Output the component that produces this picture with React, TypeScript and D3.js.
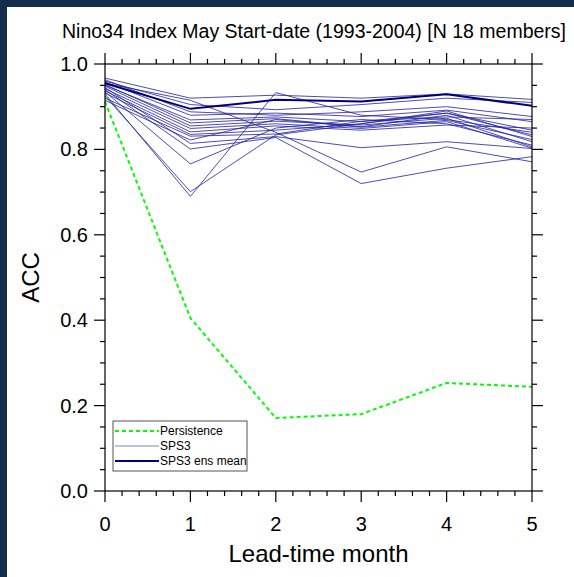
import React from "react";
import * as d3 from "d3";

const leads = [0, 1, 2, 3, 4, 5];
const persistence = [0.912, 0.405, 0.171, 0.18, 0.253, 0.244];
const ensMean = [0.955, 0.895, 0.916, 0.912, 0.929, 0.902];
const members: number[][] = [
  [0.930, 0.690, 0.933, 0.880, 0.870, 0.840],
  [0.925, 0.701, 0.834, 0.860, 0.890, 0.830],
  [0.935, 0.766, 0.850, 0.870, 0.860, 0.810],
  [0.955, 0.915, 0.840, 0.747, 0.806, 0.771],
  [0.940, 0.801, 0.828, 0.720, 0.756, 0.783],
  [0.945, 0.814, 0.830, 0.804, 0.818, 0.802],
  [0.967, 0.920, 0.927, 0.920, 0.930, 0.917],
  [0.960, 0.905, 0.893, 0.905, 0.920, 0.910],
  [0.963, 0.888, 0.880, 0.888, 0.900, 0.877],
  [0.958, 0.880, 0.885, 0.877, 0.892, 0.865],
  [0.950, 0.869, 0.876, 0.865, 0.885, 0.834],
  [0.952, 0.862, 0.872, 0.853, 0.880, 0.818],
  [0.948, 0.855, 0.866, 0.857, 0.873, 0.806],
  [0.942, 0.849, 0.860, 0.849, 0.865, 0.803],
  [0.937, 0.841, 0.855, 0.845, 0.857, 0.850],
  [0.932, 0.835, 0.845, 0.860, 0.885, 0.845],
  [0.920, 0.831, 0.836, 0.866, 0.876, 0.870],
  [0.915, 0.822, 0.870, 0.852, 0.868, 0.823],
];
const xTicks = [0, 1, 2, 3, 4, 5];
const yTicks = [0, 0.2, 0.4, 0.6, 0.8, 1.0];
const legendLabels = ["Persistence", "SPS3", "SPS3 ens mean"];
const title = "Nino34 Index May Start-date (1993-2004) [N 18 members]";

const W = 574, H = 577;
const L = 105, R = 532, T = 64, B = 491;
const FONT = "'Liberation Sans', Arial, Helvetica, sans-serif";

export default function App() {
  const x = d3.scaleLinear().domain([0, 5]).range([L, R]);
  const y = d3.scaleLinear().domain([0, 1]).range([B, T]);
  const line = d3.line<number>().x((_, i) => x(leads[i])).y((d) => y(d));
  const xMinor = d3.range(0, 5.0001, 0.2).filter((v) => Math.abs(v - Math.round(v)) > 1e-6);
  const yMinor = d3.range(0, 1.0001, 0.05).filter((v) => Math.abs(v * 5 - Math.round(v * 5)) > 1e-6);
  const major = 11, minor = 5;
  const tickStroke = { stroke: "#000", strokeWidth: 1.2 };
  const memberColor = "#2020a0";
  return (
    <svg width={W} height={H} style={{ position: "absolute", left: 0, top: 0 }} fontFamily={FONT}>
      <rect x={0} y={0} width={W} height={H} fill="#132e48" />
      <rect x={7} y={7} width={W - 7} height={H - 7} fill="#fff" />
      <text x={314} y={38} textAnchor="middle" fontSize={19.5} fill="#000">{title}</text>
      <g>
        {members.map((m, i) => (
          <path key={i} d={line(m) || ""} fill="none" stroke={memberColor} strokeWidth={1} strokeOpacity={0.8} />
        ))}
        <path d={line(ensMean) || ""} fill="none" stroke="#00007a" strokeWidth={2} />
        <path d={line(persistence) || ""} fill="none" stroke="#00ff00" strokeWidth={2} strokeDasharray="4,3" />
      </g>
      <rect x={L} y={T} width={R - L} height={B - T} fill="none" stroke="#000" strokeWidth={1.2} />
      {xTicks.map((t) => (
        <g key={"xm" + t}>
          <line x1={x(t)} x2={x(t)} y1={B} y2={B + major} {...tickStroke} />
          <line x1={x(t)} x2={x(t)} y1={T} y2={T - major} {...tickStroke} />
          <text x={x(t)} y={531} textAnchor="middle" fontSize={20}>{t}</text>
        </g>
      ))}
      {xMinor.map((t, i) => (
        <g key={"xn" + i}>
          <line x1={x(t)} x2={x(t)} y1={B} y2={B + minor} {...tickStroke} />
          <line x1={x(t)} x2={x(t)} y1={T} y2={T - minor} {...tickStroke} />
        </g>
      ))}
      {yTicks.map((t) => (
        <g key={"ym" + t}>
          <line x1={L} x2={L - major} y1={y(t)} y2={y(t)} {...tickStroke} />
          <line x1={R} x2={R + major} y1={y(t)} y2={y(t)} {...tickStroke} />
          <text x={88} y={y(t) + 7} textAnchor="end" fontSize={20}>{t.toFixed(1)}</text>
        </g>
      ))}
      {yMinor.map((t, i) => (
        <g key={"yn" + i}>
          <line x1={L} x2={L - minor} y1={y(t)} y2={y(t)} {...tickStroke} />
          <line x1={R} x2={R + minor} y1={y(t)} y2={y(t)} {...tickStroke} />
        </g>
      ))}
      <text x={(L + R) / 2} y={562} textAnchor="middle" fontSize={24}>Lead-time month</text>
      <text transform={`translate(39,${(T + B) / 2}) rotate(-90)`} textAnchor="middle" fontSize={24}>ACC</text>
      <g>
        <rect x={113} y={421} width={134} height={50} fill="#fff" stroke="#555" strokeWidth={1} />
        <line x1={115} x2={159} y1={431} y2={431} stroke="#00ff00" strokeWidth={2} strokeDasharray="4,3" />
        <line x1={115} x2={159} y1={446} y2={446} stroke="#8080c8" strokeWidth={1.2} />
        <line x1={115} x2={159} y1={461} y2={461} stroke="#00007a" strokeWidth={2} />
        {legendLabels.map((l, i) => (
          <text key={l} x={160} y={435 + i * 15} fontSize={12}>{l}</text>
        ))}
      </g>
    </svg>
  );
}
